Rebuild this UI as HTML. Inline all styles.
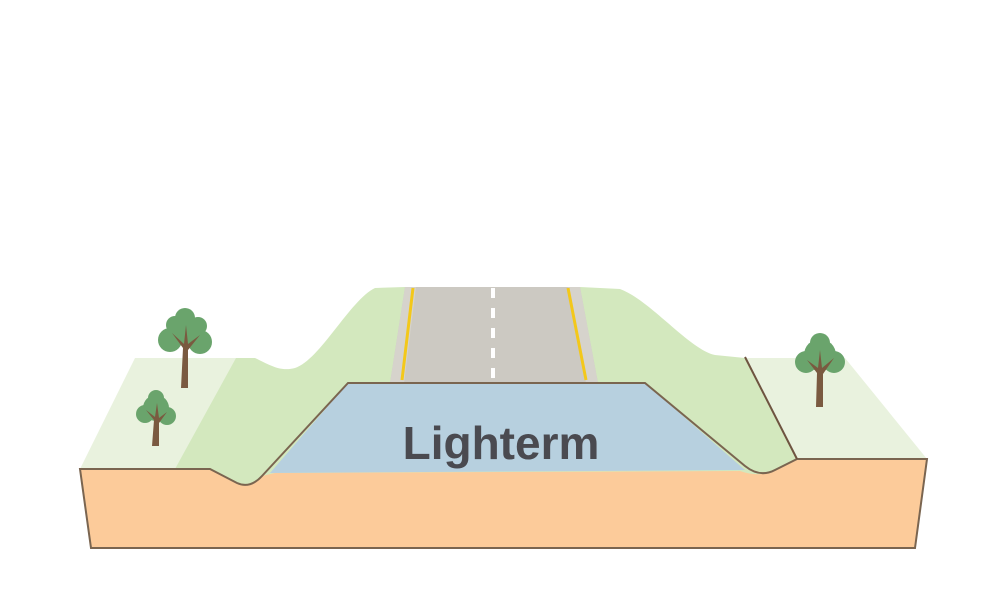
<!DOCTYPE html>
<html><head><style>body{margin:0;background:#fff}svg{display:block}</style></head><body>
<svg width="1000" height="600" viewBox="0 0 1000 600" xmlns="http://www.w3.org/2000/svg">
<!-- left light ground -->
<polygon points="80,469 135,358 255,358 210,469" fill="#e9f2de"/>
<!-- right light ground -->
<polygon points="745,358 845,358 927,459 797,459" fill="#e9f2de"/>
<!-- central green embankment -->
<path d="M175,469 L236,358 L255,358 C270,365 280,372 295,368 C320,360 350,300 375,288 L405,287 L580,287 L620,289 C650,300 690,350 715,355 L745,358 L797,459 L800,495 L175,495 Z" fill="#d3e8be"/>
<!-- road -->
<polygon points="405,287 580,287 598,383 390,383" fill="#ccc9c2"/>
<polygon points="405,287 416,287 404,383 390,383" fill="#d6d3cc"/>
<polygon points="568,287 580,287 598,383 586,383" fill="#d6d3cc"/>
<line x1="413" y1="288" x2="402" y2="380" stroke="#f3c81a" stroke-width="3"/>
<line x1="568" y1="288" x2="586" y2="380" stroke="#f3c81a" stroke-width="3"/>
<line x1="493" y1="288" x2="493" y2="378" stroke="#fff" stroke-width="4" stroke-dasharray="10,10"/>
<!-- front orange face -->
<path d="M80,469 L210,469 L237,483 Q250,489 262,476 L275,473 L740,471 Q760,478 775,470 L797,459 L927,459 L915,548 L91,548 Z" fill="#fccb9a"/>
<!-- blue block -->
<polygon points="270,473 348,383 645,383 745,470" fill="#b7d0df"/>
<!-- outline -->
<path d="M91,548 L80,469 L210,469 L237,483 Q250,489 262,476 L348,383 L645,383 L745,466 Q760,478 775,470 L797,459 L927,459 L915,548 Z" fill="none" stroke="#7a6550" stroke-width="2"/>
<line x1="745" y1="357" x2="797" y2="459" stroke="#6e5440" stroke-width="2"/>
<text x="501" y="459" text-anchor="middle" font-family="Liberation Sans, sans-serif" font-weight="bold" font-size="46" fill="#4a4a50">Lighterm</text>
<!-- trees -->
<g fill="#6aa46c">
<circle cx="185" cy="330" r="16"/><circle cx="170" cy="340" r="12"/><circle cx="200" cy="342" r="12"/><circle cx="185" cy="318" r="10"/><circle cx="175" cy="325" r="9"/><circle cx="198" cy="326" r="9"/>
</g>
<path d="M181,388 L183,348 L172,333 L184,344 L186,325 L188,344 L200,335 L188,350 L188,388 Z" fill="#7a5a40"/>
<g fill="#6aa46c">
<circle cx="156" cy="408" r="13"/><circle cx="145" cy="414" r="9"/><circle cx="167" cy="416" r="9"/><circle cx="156" cy="398" r="8"/>
</g>
<path d="M152,446 L154,420 L146,410 L155,417 L157,403 L159,418 L167,412 L159,423 L159,446 Z" fill="#7a5a40"/>
<g fill="#6aa46c">
<circle cx="820" cy="355" r="16"/><circle cx="806" cy="362" r="11"/><circle cx="834" cy="362" r="11"/><circle cx="820" cy="343" r="10"/>
</g>
<path d="M816,407 L817,373 L807,360 L818,368 L820,350 L822,368 L834,358 L823,374 L823,407 Z" fill="#7a5a40"/>
</svg>
</body></html>
